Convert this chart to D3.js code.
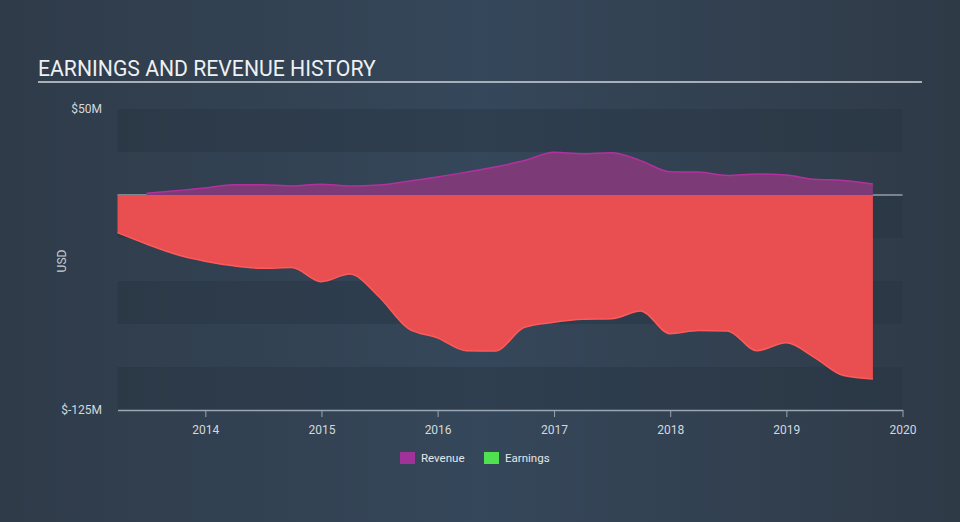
<!DOCTYPE html>
<html><head><meta charset="utf-8">
<script src="https://cdnjs.cloudflare.com/ajax/libs/d3/7.8.5/d3.min.js"></script>
<style>html,body{margin:0;padding:0;background:#333f4d;}svg{display:block;}</style>
</head><body><svg id="c" width="960" height="522"></svg>
<script>
const revenueDates = ["2013-06-30","2013-09-30","2013-12-31","2014-03-31","2014-06-30","2014-09-30","2014-12-31","2015-03-31","2015-06-30","2015-09-30","2015-12-31","2016-03-31","2016-06-30","2016-09-30","2016-12-31","2017-03-31","2017-06-30","2017-09-30","2017-12-31","2018-03-31","2018-06-30","2018-09-30","2018-12-31","2019-03-31","2019-06-30","2019-09-30"];
const revenueValues = [1.0,2.5,4.0,6.0,6.0,5.3,6.3,5.3,5.8,8.0,10.5,13.3,16.3,20.0,24.8,24.0,24.6,20.0,13.5,13.3,11.4,12.2,11.6,9.1,8.5,6.4];
const earningsDates = ["2013-03-31","2013-06-30","2013-09-30","2013-12-31","2014-03-31","2014-06-30","2014-09-30","2014-12-31","2015-03-31","2015-06-30","2015-09-30","2015-12-31","2016-03-31","2016-06-30","2016-09-30","2016-12-31","2017-03-31","2017-06-30","2017-09-30","2017-12-31","2018-03-31","2018-06-30","2018-09-30","2018-12-31","2019-03-31","2019-06-30","2019-09-30"];
const earningsValues = [-21.9,-28.5,-34.5,-38.5,-41.2,-42.6,-42.2,-50.4,-46,-59,-77.5,-83,-90.5,-90.7,-76.9,-74,-72.3,-72,-67.5,-80.6,-78.8,-79,-90.5,-85.9,-94.5,-105,-107];
const yTicks = [50,-125];
const yTickLabels = ["$50M","$-125M"];
const bandEdges = [50,25,0,-25,-50,-75,-100,-125];
const legendItems = ["Revenue","Earnings"];
const legendColors = ["#a0329a","#4fe14f"];

const svg = d3.select("#c");
const W=960,H=522;
const defs = svg.append("defs");
const g1 = defs.append("linearGradient").attr("id","bg").attr("x1","0").attr("x2","1").attr("y1","0").attr("y2","0");
g1.append("stop").attr("offset","0").attr("stop-color","#2f3b49");
g1.append("stop").attr("offset","0.5").attr("stop-color","#35475a");
g1.append("stop").attr("offset","1").attr("stop-color","#2f3a47");
svg.append("rect").attr("width",W).attr("height",H).attr("fill","url(#bg)");

const parse = d3.timeParse("%Y-%m-%d");
const x = d3.scaleTime().domain([parse("2013-03-31"), parse("2020-01-01")]).range([117.5,902.5]);
const y = d3.scaleLinear().domain([-125,50]).range([410,109]);

// title
svg.append("text").attr("x",38).attr("y",76).text("EARNINGS AND REVENUE HISTORY")
  .attr("font-family","Roboto, sans-serif").attr("font-size",21.2).attr("fill","#eef0f2");
svg.append("line").attr("x1",38).attr("x2",922).attr("y1",82).attr("y2",82).attr("stroke","#a9afb6").attr("stroke-width",2);

// bands
for(let i=0;i<bandEdges.length-1;i+=2){
  svg.append("rect").attr("x",x.range()[0]).attr("width",x.range()[1]-x.range()[0])
    .attr("y",y(bandEdges[i])).attr("height",y(bandEdges[i+1])-y(bandEdges[i]))
    .attr("fill","#26323f").attr("opacity",0.38);
}
// zero line
svg.append("line").attr("x1",x.range()[0]).attr("x2",x.range()[1]).attr("y1",y(0)).attr("y2",y(0))
  .attr("stroke","#c9ced4").attr("stroke-width",1);

const rev = revenueDates.map((d,i)=>({d:parse(d),v:revenueValues[i]}));
const earn = earningsDates.map((d,i)=>({d:parse(d),v:earningsValues[i]}));
const curve = d3.curveMonotoneX;
const area = d3.area().x(p=>x(p.d)).y0(y(0)).y1(p=>y(p.v)).curve(curve);
const line = d3.line().x(p=>x(p.d)).y(p=>y(p.v)).curve(curve);

svg.append("path").datum(rev).attr("d",area).attr("fill","#7c3b77");
svg.append("path").datum(rev).attr("d",line).attr("fill","none").attr("stroke","#b3309f").attr("stroke-width",1.5);
svg.append("path").datum(earn).attr("d",area).attr("fill","#e94f51");
svg.append("path").datum(earn).attr("d",line).attr("fill","none").attr("stroke","#ff5a5a").attr("stroke-width",1.5);

// x axis
const xAxis = d3.axisBottom(x).ticks(d3.timeYear.every(1)).tickFormat(d3.timeFormat("%Y")).tickSize(7).tickSizeOuter(0);
const ax = svg.append("g").attr("transform",`translate(0,${y(-125)})`).call(xAxis);
ax.select(".domain").attr("stroke","#9aa6b3").attr("stroke-width",1.5);
ax.selectAll(".tick line").attr("stroke","#9aa6b3");
ax.selectAll(".tick text").attr("fill","#d4d8dc").attr("font-family","Roboto, sans-serif").attr("font-size",12).attr("dy","1.2em");

// y labels
svg.selectAll(".ylab").data(yTicks).enter().append("text")
  .attr("x",102).attr("y",d=>y(d)).attr("dy","0.35em").attr("text-anchor","end")
  .attr("font-family","Roboto, sans-serif").attr("font-size",12).attr("fill","#d4d8dc")
  .text((d,i)=>yTickLabels[i]);
svg.append("text").attr("transform","translate(66,261) rotate(-90)").attr("text-anchor","middle")
  .attr("font-family","Roboto, sans-serif").attr("font-size",12).attr("fill","#c8ccd1").text("USD");

// legend
const lx=[400,484];
legendItems.forEach((t,i)=>{
  svg.append("rect").attr("x",lx[i]).attr("y",452).attr("width",15).attr("height",12).attr("fill",legendColors[i]);
  svg.append("text").attr("x",lx[i]+21).attr("y",458).attr("dy","0.35em")
    .attr("font-family","Roboto, sans-serif").attr("font-size",11.5).attr("fill","#e4e6e9").text(t);
});
</script></body></html>
